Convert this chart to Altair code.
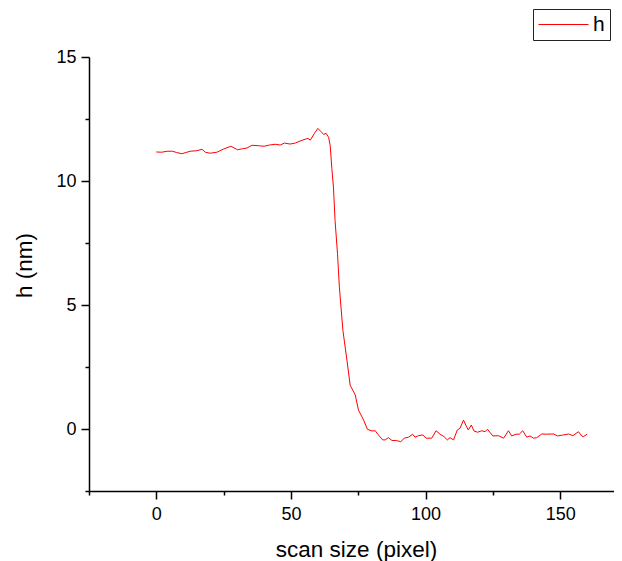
import altair as alt
import pandas as pd

scan_px = [0, 2, 4, 6, 7.5, 9.5, 11, 12.6, 15, 17, 18.2, 20, 22.5, 25, 27.7, 30.2, 32, 33.7,
           35.5, 38.3, 40, 42, 44.2, 46, 47.6, 49.7, 51.6, 54.1, 56.3, 57.2, 58.8, 60, 61.1,
           62.1, 63.1, 64, 64.6, 65.2, 65.8, 66.4, 67.3, 68, 69.3, 70.8, 72, 73.9, 75.1, 77,
           78.4, 80.1, 81.3, 82.5, 84.1, 85, 86.2, 87.5, 89.3, 90.8, 92.1, 93.7, 95.2, 96.1,
           97.4, 99, 100.2, 102.3, 103.9, 105.4, 106.9, 108.1, 109.1, 110.4, 111.8, 112.8,
           114.1, 115.1, 115.9, 117, 118, 119.3, 120.9, 122.1, 123, 125, 127.1, 129, 130.8,
           132, 133.6, 134.8, 136.1, 137.6, 138.8, 140.1, 141.3, 143.2, 145, 147.5, 149, 151.2,
           153.1, 154.7, 156.8, 158, 158.6, 160]
height_nm = [11.17, 11.16, 11.2, 11.2, 11.15, 11.1, 11.15, 11.2, 11.22, 11.28, 11.16, 11.12,
             11.16, 11.29, 11.4, 11.26, 11.3, 11.33, 11.44, 11.42, 11.4, 11.45, 11.48, 11.45,
             11.53, 11.49, 11.53, 11.64, 11.72, 11.65, 11.93, 12.12, 12.0, 11.88, 11.92, 11.76,
             11.42, 10.5, 9.75, 8.4, 7.07, 5.72, 3.98, 2.78, 1.77, 1.37, 0.76, 0.36, -0.01,
             -0.08, -0.07, -0.24, -0.44, -0.44, -0.35, -0.46, -0.47, -0.51, -0.37, -0.33, -0.21,
             -0.33, -0.27, -0.24, -0.37, -0.37, -0.07, -0.21, -0.31, -0.44, -0.35, -0.44, -0.04,
             0.03, 0.36, 0.12, -0.04, 0.16, -0.08, -0.13, -0.07, -0.11, -0.01, -0.28, -0.27,
             -0.37, -0.07, -0.28, -0.21, -0.21, -0.07, -0.33, -0.28, -0.37, -0.35, -0.2, -0.21,
             -0.2, -0.28, -0.24, -0.2, -0.27, -0.11, -0.28, -0.31, -0.21]

x_ticks = [-25, 0, 25, 50, 75, 100, 125, 150]
y_ticks = [-2.5, 0, 2.5, 5, 7.5, 10, 12.5, 15]

df = pd.DataFrame({"x": scan_px, "h": height_nm, "series": "h"})

FONT = "Liberation Sans"

chart = alt.Chart(df).mark_line(strokeWidth=1, clip=True).encode(
    x=alt.X("x:Q", scale=alt.Scale(domain=[-25, 170], nice=False, zero=False),
            axis=alt.Axis(values=x_ticks, title="scan size (pixel)",
                          labelExpr="datum.value % 50 === 0 ? datum.label : ''",
                          tickSize={"condition": {"test": "datum.value % 50 === 0", "value": 8}, "value": 4},
                          labelPadding=6, titleX=267, titleY=65, titleBaseline="alphabetic")),
    y=alt.Y("h:Q", scale=alt.Scale(domain=[-2.5, 15], nice=False, zero=False),
            axis=alt.Axis(values=y_ticks, title="h (nm)",
                          labelExpr="datum.value % 5 === 0 ? datum.label : ''",
                          tickSize={"condition": {"test": "datum.value % 5 === 0", "value": 8}, "value": 4},
                          labelPadding=5, titleX=-58, titleY=208, titleBaseline="alphabetic",
                          titleAngle=270)),
    color=alt.Color("series:N", scale=alt.Scale(range=["#ff0000"]),
                    legend=alt.Legend(title=None, orient="none", legendX=444, legendY=-48,
                                      symbolType="M-5,0H5", symbolSize=100, symbolStrokeWidth=1,
                                      symbolOffset=15,
                                      labelFontSize=21, labelFont=FONT, labelOffset=19,
                                      padding=5, strokeColor="#222222", fillColor="white",
                                      cornerRadius=0, labelColor="black")),
).properties(
    width=525, height=434,
    autosize=alt.AutoSizeParams(type="none"),
    padding={"left": 81, "top": 49, "right": 0, "bottom": 70},
).configure_view(stroke=None).configure_axis(
    domainColor="black", domainWidth=1.5, tickColor="black", tickWidth=1.5,
    labelFont=FONT, labelFontSize=18, labelColor="black",
    titleFont=FONT, titleFontSize=22.5, titleColor="black", titleFontWeight="normal",
    grid=False,
)

chart.save("out.html", embed_options={"renderer": "svg", "actions": False})
